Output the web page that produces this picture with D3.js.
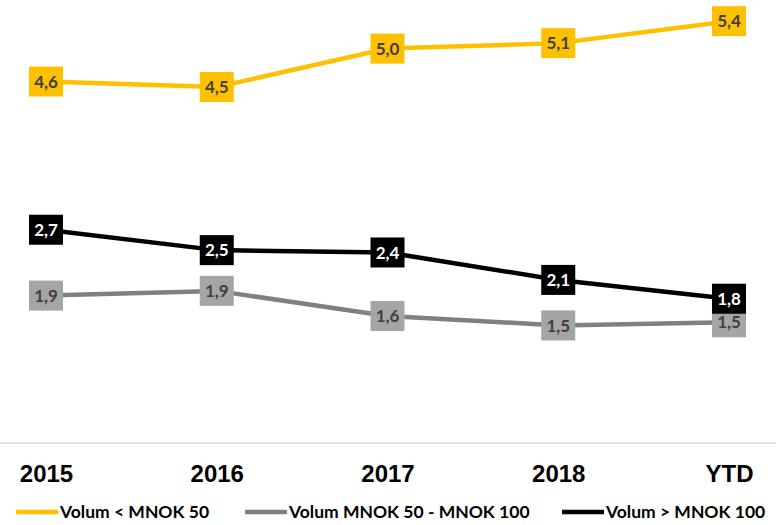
<!DOCTYPE html>
<html>
<head>
<meta charset="utf-8">
<script src="https://cdn.jsdelivr.net/npm/d3@7"></script>
<style>
  body { margin: 0; background: #fff; }
  svg { display: block; }
</style>
</head>
<body>
<div id="chart"></div>
<script>
// data
const years = ['2015', '2016', '2017', '2018', 'YTD'];
const under50 = [4.61, 4.54, 5.03, 5.10, 5.38];
const mid50to100 = [1.88, 1.94, 1.62, 1.50, 1.54];
const over100 = [2.72, 2.46, 2.43, 2.08, 1.84];
const seriesNames = ['Volum < MNOK 50', 'Volum MNOK 50 - MNOK 100', 'Volum > MNOK 100'];

const W = 776, H = 525;
const series = [
  {name: seriesNames[0], values: under50, line: '#FFC000', box: '#FFC000', text: '#404040'},
  {name: seriesNames[1], values: mid50to100, line: '#808080', box: '#A5A5A5', text: '#404040'},
  {name: seriesNames[2], values: over100, line: '#000000', box: '#000000', text: '#ffffff'}
];

const svg = d3.select('#chart').append('svg')
  .attr('width', W).attr('height', H);

const x = d3.scalePoint().domain(years).range([46, 729]);
const y = d3.scaleLinear().domain([0, 5.65]).range([443, 0]);

// baseline
svg.append('line')
  .attr('x1', 0).attr('x2', W)
  .attr('y1', y(0)).attr('y2', y(0))
  .attr('stroke', '#D9D9D9').attr('stroke-width', 1.5);

// category labels
const xAxis = svg.append('g')
  .attr('transform', `translate(0,${y(0)})`)
  .call(d3.axisBottom(x).tickSize(0).tickPadding(0));
xAxis.select('.domain').remove();
xAxis.selectAll('text')
  .attr('dy', null)
  .attr('y', 39)
  .attr('fill', '#000')
  .style('font-family', '"Liberation Sans", Arial, sans-serif')
  .style('font-weight', 'bold')
  .style('font-size', '24px');

const line = d3.line()
  .x((d, i) => x(years[i]))
  .y(d => y(d));

svg.selectAll('.series-line')
  .data(series)
  .enter().append('path')
  .attr('class', 'series-line')
  .attr('fill', 'none')
  .attr('stroke', d => d.line)
  .attr('stroke-width', 4.5)
  .attr('d', d => line(d.values));

const fmt = v => d3.format('.1f')(v).replace('.', ',');

series.forEach(s => {
  const g = svg.append('g');
  const pts = g.selectAll('g').data(s.values).enter().append('g')
    .attr('transform', (d, i) => `translate(${x(years[i])},${y(d)})`);
  pts.append('rect')
    .attr('x', -17).attr('y', -15)
    .attr('width', 34).attr('height', 30)
    .attr('fill', s.box);
  pts.append('text')
    .attr('text-anchor', 'middle')
    .attr('dy', '0.36em')
    .attr('fill', s.text)
    .style('font-family', 'Lato, sans-serif')
    .style('font-weight', 'bold')
    .style('font-size', '17px')
    .text(d => fmt(d));
});

// legend
const legendX = [16, 245, 562];
const legend = svg.selectAll('.legend')
  .data(series)
  .enter().append('g')
  .attr('class', 'legend')
  .attr('transform', (d, i) => `translate(${legendX[i]},512)`);
legend.append('line')
  .attr('x1', 0).attr('x2', 42)
  .attr('stroke', d => d.line)
  .attr('stroke-width', 4.5);
legend.append('text')
  .attr('x', 44)
  .attr('dy', '0.36em')
  .attr('fill', '#000')
  .style('font-family', 'Lato, sans-serif')
  .style('font-weight', 'bold')
  .style('font-size', '17.5px')
  .text(d => d.name);
</script>
</body>
</html>
